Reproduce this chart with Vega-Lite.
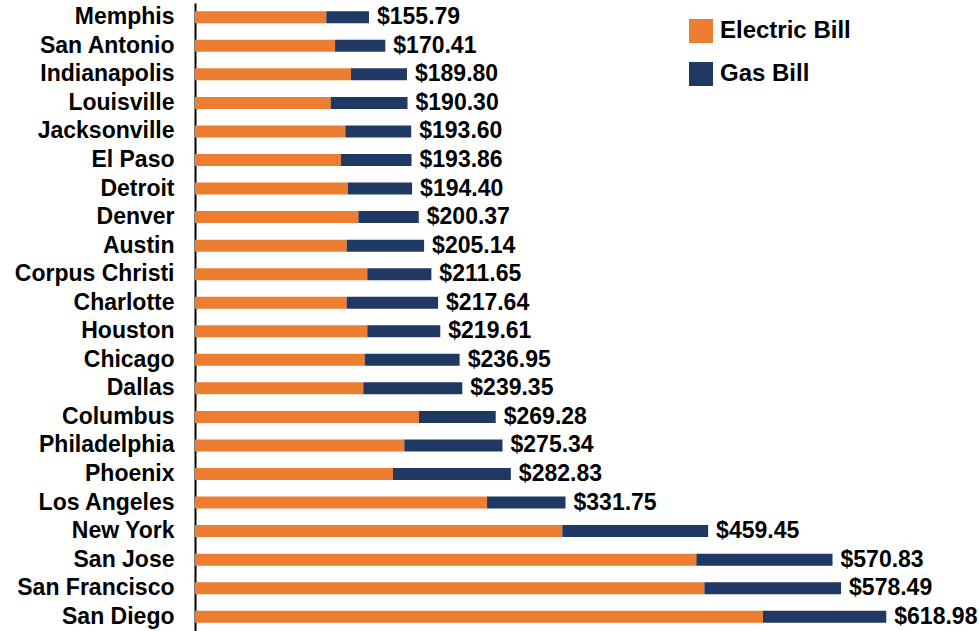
{
  "$schema": "https://vega.github.io/schema/vega-lite/v6.json",
  "autosize": {"type": "none"},
  "padding": {"left": 195, "top": 3, "right": 0, "bottom": 0},
  "width": 784,
  "height": 628,
  "background": "white",
  "config": {"view": {"stroke": null}, "font": "Liberation Sans"},
  "data": {
    "values": [
      {"city": "Memphis", "electric": 117.6, "gas": 38.19, "total": 155.79},
      {"city": "San Antonio", "electric": 125.4, "gas": 45.01, "total": 170.41},
      {"city": "Indianapolis", "electric": 139.7, "gas": 50.1, "total": 189.80},
      {"city": "Louisville", "electric": 121.5, "gas": 68.8, "total": 190.30},
      {"city": "Jacksonville", "electric": 134.6, "gas": 59.0, "total": 193.60},
      {"city": "El Paso", "electric": 130.7, "gas": 63.16, "total": 193.86},
      {"city": "Detroit", "electric": 137.0, "gas": 57.4, "total": 194.40},
      {"city": "Denver", "electric": 146.3, "gas": 54.07, "total": 200.37},
      {"city": "Austin", "electric": 135.8, "gas": 69.34, "total": 205.14},
      {"city": "Corpus Christi", "electric": 154.3, "gas": 57.35, "total": 211.65},
      {"city": "Charlotte", "electric": 135.8, "gas": 81.84, "total": 217.64},
      {"city": "Houston", "electric": 154.3, "gas": 65.31, "total": 219.61},
      {"city": "Chicago", "electric": 151.9, "gas": 85.05, "total": 236.95},
      {"city": "Dallas", "electric": 150.7, "gas": 88.65, "total": 239.35},
      {"city": "Columbus", "electric": 200.6, "gas": 68.68, "total": 269.28},
      {"city": "Philadelphia", "electric": 187.4, "gas": 87.94, "total": 275.34},
      {"city": "Phoenix", "electric": 177.3, "gas": 105.53, "total": 282.83},
      {"city": "Los Angeles", "electric": 261.5, "gas": 70.25, "total": 331.75},
      {"city": "New York", "electric": 328.9, "gas": 130.55, "total": 459.45},
      {"city": "San Jose", "electric": 448.9, "gas": 121.93, "total": 570.83},
      {"city": "San Francisco", "electric": 456.1, "gas": 122.39, "total": 578.49},
      {"city": "San Diego", "electric": 508.6, "gas": 110.38, "total": 618.98}
    ]
  },
  "encoding": {
    "y": {
      "field": "city",
      "type": "nominal",
      "sort": null,
      "scale": {"paddingInner": 0.58, "paddingOuter": 0.29},
      "axis": {
        "title": null,
        "ticks": false,
        "grid": false,
        "domain": true,
        "domainColor": "#000000",
        "domainWidth": 2,
        "labelFontSize": 23,
        "labelFontWeight": "bold",
        "labelColor": "#000000",
        "labelPadding": 21,
        "labelFont": "Liberation Sans"
      }
    }
  },
  "layer": [
    {
      "transform": [{"fold": ["electric", "gas"], "as": ["bill", "amount"]}],
      "mark": {"type": "bar", "size": 12},
      "encoding": {
        "x": {
          "field": "amount",
          "type": "quantitative",
          "stack": "zero",
          "scale": {"domain": [0, 702], "nice": false},
          "axis": null
        },
        "color": {
          "field": "bill",
          "type": "nominal",
          "scale": {"domain": ["electric", "gas"], "range": ["#ED7D31", "#203864"]},
          "legend": {
            "title": null,
            "orient": "none",
            "legendX": 494,
            "legendY": 16,
            "padding": 0,
            "symbolType": "square",
            "symbolSize": 576,
            "symbolStrokeWidth": 0,
            "labelFontSize": 24,
            "labelFontWeight": "bold",
            "labelColor": "#000000",
            "labelFont": "Liberation Sans",
            "labelOffset": 7,
            "rowPadding": 19,
            "labelExpr": "datum.value == 'electric' ? 'Electric Bill' : 'Gas Bill'"
          }
        },
        "order": {"field": "bill", "sort": "ascending"}
      }
    },
    {
      "mark": {"type": "text", "align": "left", "baseline": "middle", "dx": 8, "fontSize": 23, "fontWeight": "bold", "color": "#000000", "font": "Liberation Sans"},
      "encoding": {
        "x": {"field": "total", "type": "quantitative"},
        "text": {"field": "total", "type": "quantitative", "format": "$.2f"}
      }
    }
  ]
}
